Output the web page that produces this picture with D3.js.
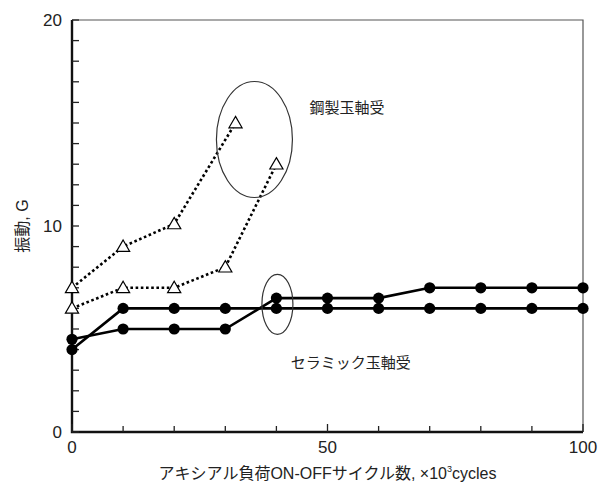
<!DOCTYPE html>
<html>
<head>
<meta charset="utf-8">
<script src="https://cdn.jsdelivr.net/npm/d3@7"></script>
<style>
  body { margin: 0; background: #fff; }
  text { font-family: "Liberation Sans", Arial, "Noto Sans CJK JP", sans-serif; fill: #222; }
</style>
</head>
<body>
<div id="wrapper"></div>
<script>
// cycles (x10^3)
const cycles = [0, 10, 20, 30, 40, 50, 60, 70, 80, 90, 100]
// steel ball bearings (open triangles, dotted)
const steelA_x = [0, 10, 20, 32]
const steelA_y = [7, 9, 10.1, 15]
const steelB_x = [0, 10, 20, 30, 40]
const steelB_y = [6, 7, 7, 8, 13]
// ceramic ball bearings (filled circles, solid)
const ceramicA_y = [4.5, 5, 5, 5, 6.5, 6.5, 6.5, 7, 7, 7, 7]
const ceramicB_y = [4, 6, 6, 6, 6, 6, 6, 6, 6, 6, 6]

const yTicks = [0, 10, 20]
const xTicks = [0, 50, 100]
const yMinorTicks = d3.range(0, 21, 1)
const xMinorTicks = d3.range(0, 101, 10)

const dimensions = {
  width: 602,
  height: 494,
  margin: { top: 20, right: 19, bottom: 62, left: 72 },
}
dimensions.boundedWidth = dimensions.width - dimensions.margin.left - dimensions.margin.right
dimensions.boundedHeight = dimensions.height - dimensions.margin.top - dimensions.margin.bottom

const svg = d3.select("#wrapper").append("svg")
  .attr("width", dimensions.width)
  .attr("height", dimensions.height)

const bounds = svg.append("g")
  .attr("transform", `translate(${dimensions.margin.left},${dimensions.margin.top})`)

const xScale = d3.scaleLinear().domain([0, 100]).range([0, dimensions.boundedWidth])
const yScale = d3.scaleLinear().domain([0, 20]).range([dimensions.boundedHeight, 0])

// thin frame on top and right
bounds.append("path")
  .attr("d", `M0,0H${dimensions.boundedWidth}V${dimensions.boundedHeight}`)
  .attr("fill", "none")
  .attr("stroke", "#555")
  .attr("stroke-width", 1.2)

// main axes
bounds.append("path")
  .attr("d", `M0,0V${dimensions.boundedHeight}H${dimensions.boundedWidth}`)
  .attr("fill", "none")
  .attr("stroke", "#111")
  .attr("stroke-width", 2.4)

// inward ticks, on top of the axes
bounds.selectAll(".yt").data(yMinorTicks).join("line")
  .attr("x1", 0).attr("x2", 7)
  .attr("y1", d => yScale(d)).attr("y2", d => yScale(d))
  .attr("stroke", "#222").attr("stroke-width", 1.3)

bounds.selectAll(".xt").data(xMinorTicks).join("line")
  .attr("x1", d => xScale(d)).attr("x2", d => xScale(d))
  .attr("y1", dimensions.boundedHeight)
  .attr("y2", d => dimensions.boundedHeight - (d % 50 === 0 ? 8 : 6))
  .attr("stroke", "#222").attr("stroke-width", 1.3)

// tick labels
bounds.selectAll(".ylab").data(yTicks).join("text")
  .attr("x", -10)
  .attr("y", d => yScale(d))
  .attr("dy", "0.35em")
  .attr("text-anchor", "end")
  .style("font-size", "17px")
  .text(d => d)

bounds.selectAll(".xlab").data(xTicks).join("text")
  .attr("x", d => xScale(d))
  .attr("y", dimensions.boundedHeight + 21)
  .attr("text-anchor", "middle")
  .style("font-size", "17px")
  .text(d => d)

// axis titles
svg.append("text")
  .attr("transform", `translate(28,${yScale(10) + dimensions.margin.top}) rotate(-90)`)
  .attr("text-anchor", "middle")
  .style("font-size", "16px")
  .text("振動, G")

const xTitle = svg.append("text")
  .attr("x", dimensions.margin.left + xScale(50))
  .attr("y", 479)
  .attr("text-anchor", "middle")
  .style("font-size", "16px")
xTitle.append("tspan").text("アキシアル負荷ON-OFFサイクル数, ×10")
xTitle.append("tspan").attr("dy", -7).style("font-size", "9px").text("3")
xTitle.append("tspan").attr("dy", 7).text("cycles")

// lines
const line = d3.line()
  .x(d => xScale(d[0]))
  .y(d => yScale(d[1]))

const zip = (xs, ys) => xs.map((x, i) => [x, ys[i]])
const ceramicA = zip(cycles, ceramicA_y)
const ceramicB = zip(cycles, ceramicB_y)
const steelA = zip(steelA_x, steelA_y)
const steelB = zip(steelB_x, steelB_y)

;[steelA, steelB].forEach(s => {
  bounds.append("path").datum(s)
    .attr("d", line)
    .attr("fill", "none")
    .attr("stroke", "#000")
    .attr("stroke-width", 2.6)
    .attr("stroke-dasharray", "2.6,2.6")
})

;[ceramicA, ceramicB].forEach(s => {
  bounds.append("path").datum(s)
    .attr("d", line)
    .attr("fill", "none")
    .attr("stroke", "#000")
    .attr("stroke-width", 2.6)
})

// markers
const tri = d3.symbol().type(d3.symbolTriangle).size(75)
;[steelA, steelB].forEach(s => {
  bounds.selectAll(null).data(s).join("path")
    .attr("d", tri)
    .attr("transform", d => `translate(${xScale(d[0])},${yScale(d[1]) + 1})`)
    .attr("fill", "#fff")
    .attr("stroke", "#000")
    .attr("stroke-width", 1.2)
})

;[ceramicA, ceramicB].forEach(s => {
  bounds.selectAll(null).data(s).join("circle")
    .attr("cx", d => xScale(d[0]))
    .attr("cy", d => yScale(d[1]))
    .attr("r", 5.6)
    .attr("fill", "#000")
})

// highlight ellipses
bounds.append("ellipse")
  .attr("cx", xScale(35.7)).attr("cy", yScale(14.2))
  .attr("rx", 38).attr("ry", 58)
  .attr("fill", "none").attr("stroke", "#333").attr("stroke-width", 1.2)

bounds.append("ellipse")
  .attr("cx", xScale(40.2)).attr("cy", yScale(6.2))
  .attr("rx", 15.5).attr("ry", 30)
  .attr("fill", "none").attr("stroke", "#333").attr("stroke-width", 1.2)

// annotations
bounds.append("text")
  .attr("x", xScale(46.5)).attr("y", yScale(15.5))
  .style("font-size", "15px")
  .text("鋼製玉軸受")

bounds.append("text")
  .attr("x", xScale(42.8)).attr("y", yScale(3.1))
  .style("font-size", "15px")
  .text("セラミック玉軸受")
</script>
</body>
</html>
